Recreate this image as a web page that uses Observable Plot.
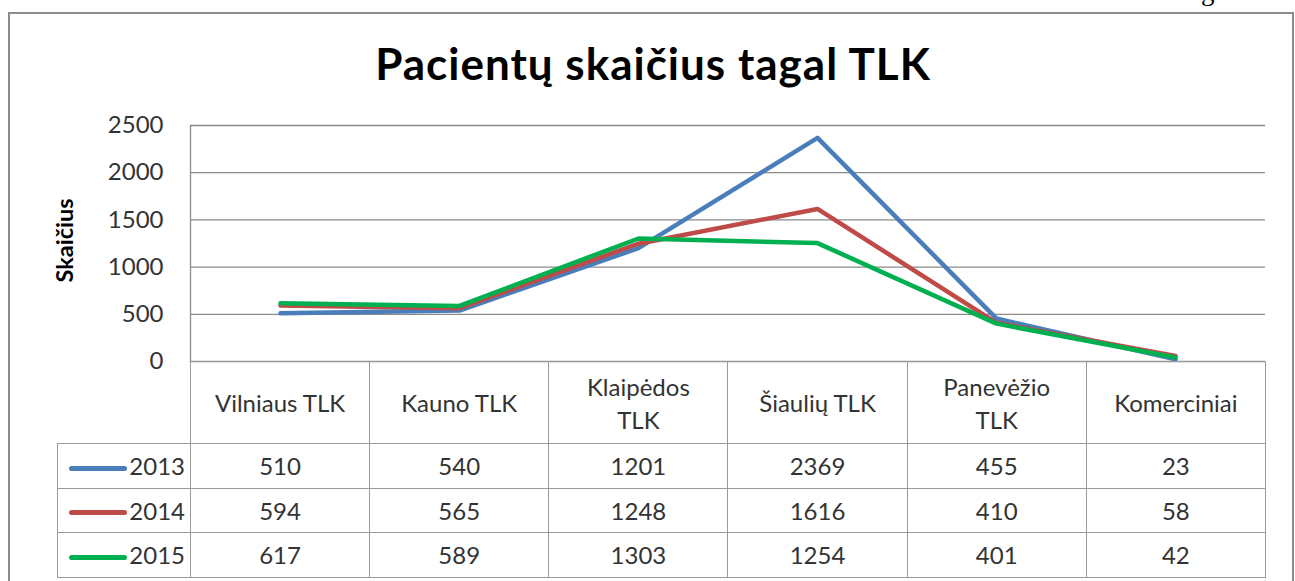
<!DOCTYPE html>
<html>
<head>
<meta charset="utf-8">
<script src="https://cdn.jsdelivr.net/npm/d3@7"></script>
<script src="https://cdn.jsdelivr.net/npm/@observablehq/plot@0.6"></script>
<style>
  html, body { margin: 0; padding: 0; background: #fff; }
  #wrap { position: relative; width: 1295px; height: 581px; overflow: hidden; background: #fff; font-family: Lato, "Open Sans", sans-serif; color: #333; }
  #frame { position: absolute; left: 8px; top: 12px; width: 1286px; height: 700px; border: 2.5px solid #8c8c8c; box-sizing: border-box; }
  #pageg { position: absolute; left: 1201px; top: -22px; font-family: "Liberation Serif", serif; font-size: 27px; line-height: 27px; color: #000; }
  #title { position: absolute; left: 0; width: 1306px; top: 41px; text-align: center; font-size: 44px; line-height: 44px; letter-spacing: 1px; font-weight: bold; color: #000; }
  #chart { position: absolute; left: 0; top: 0; }
  #tbl { position: absolute; left: 57px; top: 361px; border-collapse: collapse; table-layout: fixed; font-size: 24px; color: #333; }
  #tbl td { border: 1.3px solid #9a9a9a; padding: 0; text-align: center; vertical-align: middle; }
  #tbl tr.head td { height: 81px; line-height: 33px; white-space: pre-line; }
  #tbl tr.head td.blank { border: none; }
  #tbl tr.row td { height: 43.5px; }
  #tbl td.leg { text-align: right; padding-right: 5px; }
  .swatch { display: inline-block; width: 58px; height: 5px; border-radius: 3px; vertical-align: middle; margin-right: 2px; position: relative; top: -1px; }
</style>
</head>
<body>
<div id="wrap">
  <div id="pageg">g</div>
  <div id="frame"></div>
  <div id="title"></div>
  <div id="chart"></div>
  <table id="tbl"></table>
</div>
<script>
const title = "Pacientų skaičius tagal TLK";
const yLabel = "Skaičius";
const categories = ["Vilniaus TLK", "Kauno TLK", "Klaipėdos TLK", "Šiaulių TLK", "Panevėžio TLK", "Komerciniai"];
const categoryLabels = ["Vilniaus TLK", "Kauno TLK", "Klaipėdos\nTLK", "Šiaulių TLK", "Panevėžio\nTLK", "Komerciniai"];
const years = ["2013", "2014", "2015"];
const values2013 = [510, 540, 1201, 2369, 455, 23];
const values2014 = [594, 565, 1248, 1616, 410, 58];
const values2015 = [617, 589, 1303, 1254, 401, 42];
const yTicks = [0, 500, 1000, 1500, 2000, 2500];
const colors = ["#4A7EBB", "#BE4B48", "#00B050"];

const seriesValues = [values2013, values2014, values2015];
const data = years.flatMap((yr, i) => categories.map((c, j) => ({year: yr, cat: c, value: seriesValues[i][j]})));

document.getElementById("title").textContent = title;

const chart = Plot.plot({
  width: 1295,
  height: 365,
  marginLeft: 190,
  marginRight: 30,
  marginTop: 125,
  marginBottom: 4,
  style: {fontFamily: "Lato, 'Open Sans', sans-serif", color: "#333", background: "transparent", overflow: "visible"},
  x: {type: "point", domain: categories, padding: 0.5, align: 0.5, axis: null},
  y: {domain: [0, 2500], ticks: yTicks},
  color: {domain: years, range: colors},
  marks: [
    Plot.gridY(yTicks, {stroke: "#8a8a8a", strokeOpacity: 1, strokeWidth: 1.3}),
    Plot.frame({anchor: "left", stroke: "#8a8a8a", strokeWidth: 1.3}),
    Plot.axisY(yTicks, {tickSize: 0, tickPadding: 27, fontSize: 24, label: null, tickFormat: d => String(d)}),
    Plot.text([yLabel], {frameAnchor: "left", dx: -125, dy: -3, rotate: -90, textAnchor: "middle", fontSize: 23.5, fontWeight: "bold", fill: "#000"}),
    Plot.line(data, {x: "cat", y: "value", z: "year", stroke: "year", strokeWidth: 4.5, strokeLinejoin: "round", strokeLinecap: "round"})
  ]
});
document.getElementById("chart").appendChild(chart);

// data table below the plot area
const tbl = document.getElementById("tbl");
const colgroup = document.createElement("colgroup");
const c0 = document.createElement("col"); c0.style.width = "133px"; colgroup.appendChild(c0);
categories.forEach(() => { const c = document.createElement("col"); c.style.width = (1075 / categories.length) + "px"; colgroup.appendChild(c); });
tbl.appendChild(colgroup);
tbl.style.width = (133 + 1075) + "px";

const head = document.createElement("tr"); head.className = "head";
const blank = document.createElement("td"); blank.className = "blank"; head.appendChild(blank);
categoryLabels.forEach(l => { const td = document.createElement("td"); td.textContent = l; head.appendChild(td); });
tbl.appendChild(head);

years.forEach((yr, i) => {
  const tr = document.createElement("tr"); tr.className = "row";
  const leg = document.createElement("td"); leg.className = "leg";
  const sw = document.createElement("span"); sw.className = "swatch"; sw.style.background = colors[i];
  leg.appendChild(sw); leg.appendChild(document.createTextNode(yr));
  tr.appendChild(leg);
  seriesValues[i].forEach(v => { const td = document.createElement("td"); td.textContent = v; tr.appendChild(td); });
  tbl.appendChild(tr);
});
</script>
</body>
</html>
